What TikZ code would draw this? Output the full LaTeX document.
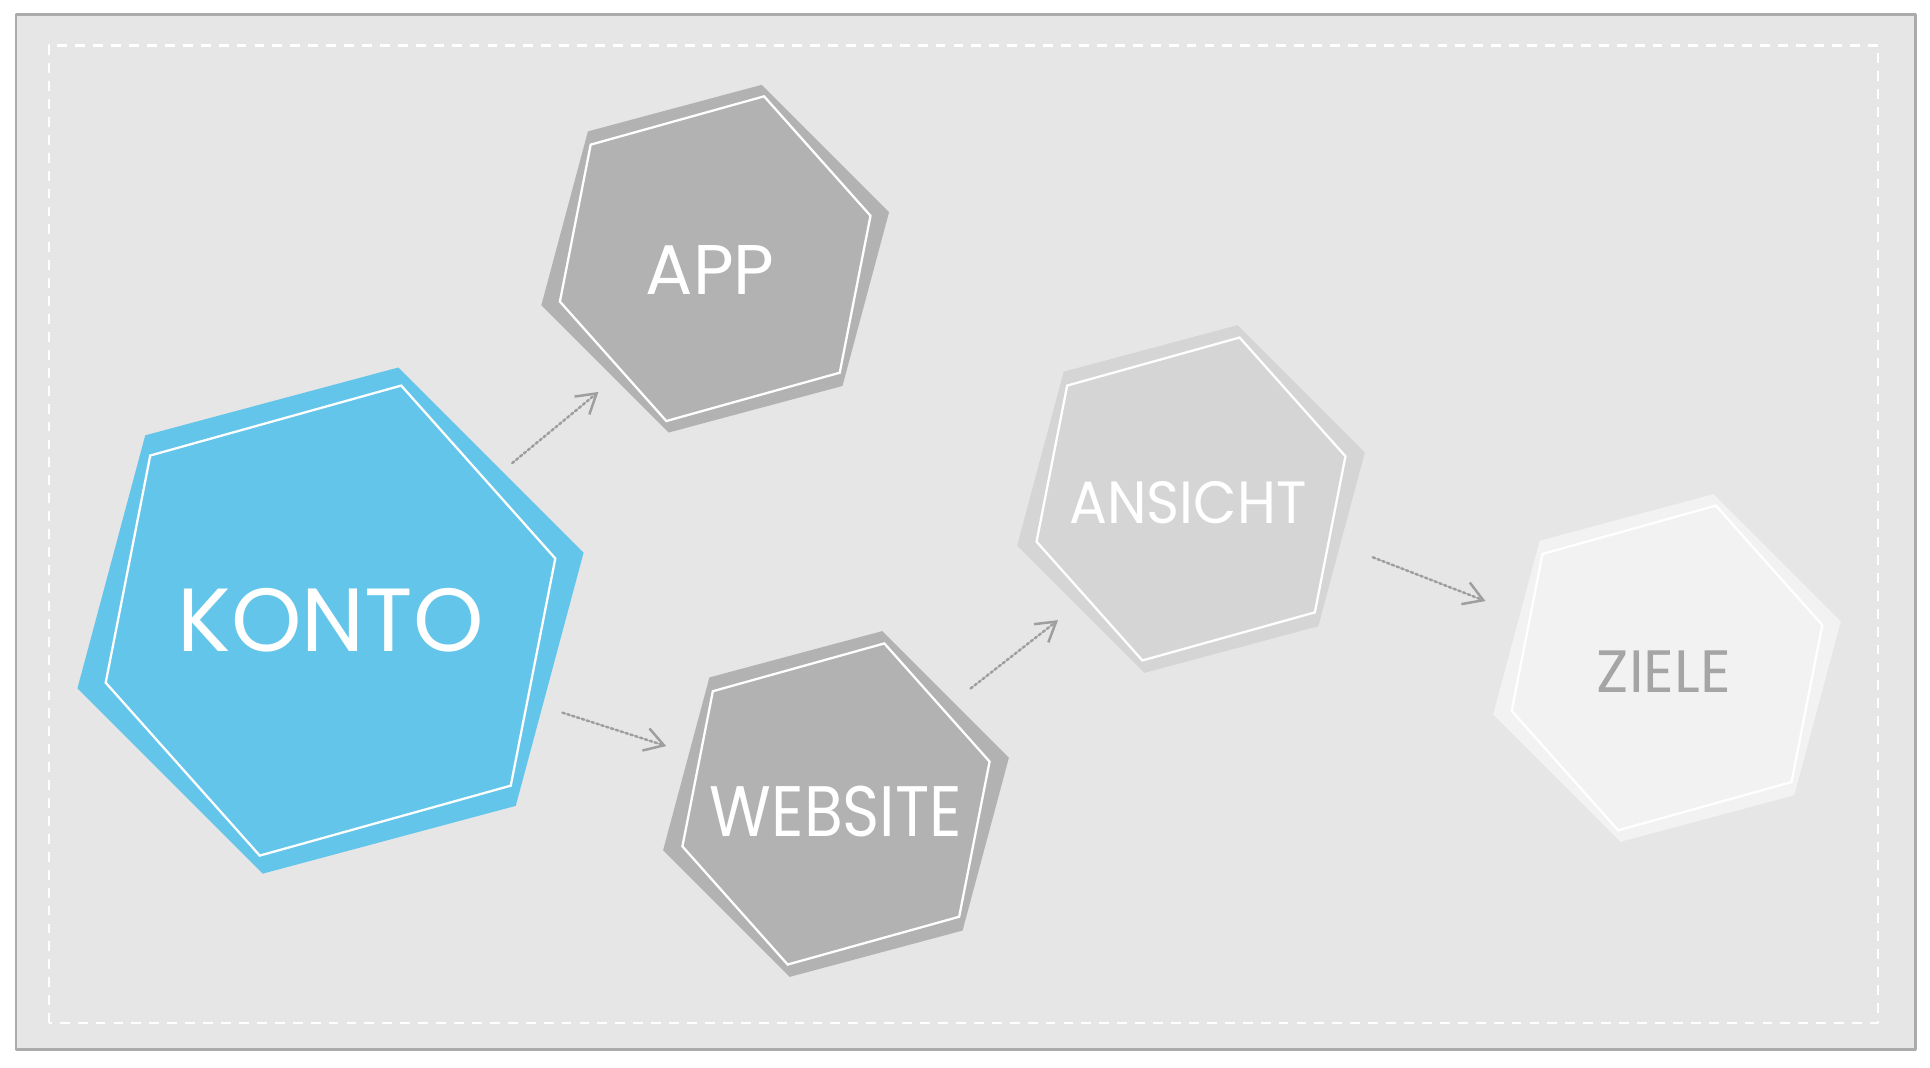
\documentclass[tikz,border=0pt]{standalone}
\usepackage{fontspec}
\setmainfont{Poppins}
\usepackage{tikz}
\usetikzlibrary{shapes.geometric, arrows.meta}
\definecolor{paper}{HTML}{E6E6E6}
\definecolor{framegray}{HTML}{ABABAB}
\definecolor{kontoblue}{HTML}{63C5EA}
\definecolor{midgray}{HTML}{B2B2B2}
\definecolor{lightgray}{HTML}{D5D5D5}
\definecolor{palegray}{HTML}{F2F2F2}
\definecolor{textgray}{HTML}{A5A5A5}
\definecolor{arrowgray}{HTML}{9E9E9E}
\tikzstyle{hexa} = [regular polygon, regular polygon sides=6, shape border rotate=15, minimum size=3.6cm, inner sep=0pt, outer sep=0pt]
\tikzstyle{title} = [inner sep=0pt, text=white]
\tikzstyle{rim} = [draw=white, line width=0.65pt, line join=miter]
\tikzstyle{flow} = [draw=arrowgray, line width=0.7pt, dash pattern=on 0.7pt off 0.75pt, -{Straight Barb[length=5.4pt,width=6.6pt]}]
\newcommand{\hexrim}[2]{%
  \begin{scope}[shift={(#1.center)}, scale=#2]
    \draw[rim] (0.27,0.897) -- (0.858,0.237) -- (0.688,-0.63) -- (-0.27,-0.897) -- (-0.858,-0.237) -- (-0.688,0.63) -- cycle;
  \end{scope}}

\begin{document}
\begin{tikzpicture}[line cap=round, line join=round]
	\useasboundingbox (0,0) rectangle (19.30,10.68);
	\draw[line width=0.85pt, draw=framegray, fill=paper] (0.16,0.18) rectangle (19.15,10.53);
	\draw[white, line width=0.6pt, line cap=butt, dash pattern=on 2.8pt off 2.3pt] (0.49,0.45) rectangle (18.78,10.225);
	\node[hexa, fill=kontoblue, minimum size=5.24cm] (konto) at (3.305,4.474) {};
	\node[hexa, fill=midgray] (app) at (7.152,8.093) {};
	\node[hexa, fill=midgray, minimum size=3.58cm] (website) at (8.36,2.64) {};
	\node[hexa, fill=lightgray] (ansicht) at (11.91,5.69) {};
	\node[hexa, fill=palegray] (ziele) at (16.67,4.00) {};
	\hexrim{konto}{2.62}
	\hexrim{app}{1.81}
	\hexrim{website}{1.79}
	\hexrim{ansicht}{1.80}
	\hexrim{ziele}{1.81}
	\node[title, font=\fontsize{25.5pt}{30pt}\selectfont] (konto-t) at (konto.center) {KONTO};
	\node[title, font=\fontsize{20pt}{24pt}\selectfont] (app-t) at ([shift={(-0.05,-0.11)}]app.center) {APP};
	\node[title, font=\fontsize{18pt}{22pt}\selectfont] (website-t) at ([yshift=-0.08cm]website.center) {\scalebox{1}[1.13]{WEBSITE}};
	\node[title, font=\fontsize{16pt}{20pt}\selectfont] (ansicht-t) at ([shift={(-0.03,-0.04)}]ansicht.center) {\scalebox{1}[1.06]{ANSICHT}};
	\node[title, text=textgray, font=\fontsize{17pt}{20pt}\selectfont] (ziele-t) at ([shift={(-0.03,-0.04)}]ziele.center) {ZIELE};
	\draw[flow, shorten <=0.13cm, shorten >=0.21cm] (konto.41.4) -- (app.230.5);
	\draw[flow, shorten <=0.21cm, shorten >=0.24cm] (konto.338.35) -- (website.161.2);
	\draw[flow, shorten <=0.22cm, shorten >=0.24cm] (website.41.7) -- (ansicht.223.3);
	\draw[flow, shorten <=0.35cm, shorten >=0.37cm] (ansicht.343.3) -- (ziele.160.1);
\end{tikzpicture}
\end{document}
